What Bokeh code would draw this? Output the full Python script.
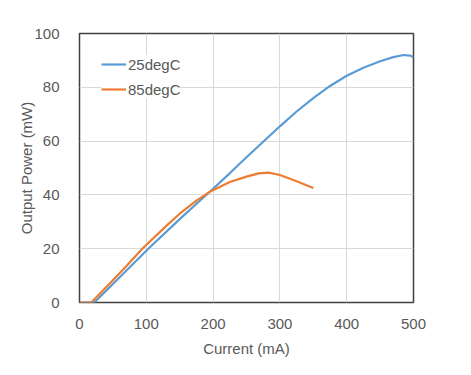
from bokeh.plotting import figure
from bokeh.models import ColumnDataSource, Range1d, FixedTicker, Legend, LegendItem
from bokeh.embed import file_html
from bokeh.resources import INLINE

# Data
current_25 = [0, 22, 50, 103, 150, 181, 200, 226, 250, 273, 300, 325, 350, 375, 400, 425, 450, 470, 485, 495, 500]
power_25 = [0, 0, 6.9, 20.0, 31.0, 38.0, 42.3, 48.3, 54.0, 59.3, 65.5, 71.0, 76.0, 80.5, 84.3, 87.3, 89.7, 91.2, 92.0, 91.8, 91.2]

current_85 = [0, 17.5, 45, 70, 94, 130, 150, 175, 196, 225, 250, 268, 283, 300, 325, 350]
power_85 = [0, 0, 7.0, 13.5, 20.0, 28.5, 33.0, 37.9, 41.3, 44.8, 46.8, 48.0, 48.3, 47.4, 45.1, 42.6]

x_ticks = [0, 100, 200, 300, 400, 500]
y_ticks = [0, 20, 40, 60, 80, 100]

FONT = "Liberation Sans"
TXT = "#595959"

p = figure(width=448, height=363, output_backend="svg", toolbar_location=None,
           x_range=Range1d(0, 500), y_range=Range1d(0, 100),
           min_border_left=79, min_border_right=35, min_border_top=33, min_border_bottom=61)

p.outline_line_color = "#404040"
p.outline_line_width = 1.5

for ax in (p.xaxis[0], p.yaxis[0]):
    ax.axis_line_color = None
    ax.major_tick_line_color = None
    ax.minor_tick_line_color = None
    ax.major_label_text_font = FONT
    ax.major_label_text_font_size = "15px"
    ax.major_label_text_color = TXT
    ax.axis_label_text_font = FONT
    ax.axis_label_text_font_size = "15px"
    ax.axis_label_text_color = TXT
    ax.axis_label_text_font_style = "normal"

p.xaxis.ticker = FixedTicker(ticks=x_ticks)
p.yaxis.ticker = FixedTicker(ticks=y_ticks)
p.xaxis.axis_label = "Current (mA)"
p.yaxis.axis_label = "Output Power (mW)"
p.xaxis.major_label_standoff = 10
p.yaxis.major_label_standoff = 14
p.xaxis.axis_label_standoff = 8
p.yaxis.axis_label_standoff = -4

p.xgrid.grid_line_color = "#d9d9d9"
p.ygrid.grid_line_color = "#d9d9d9"
p.xgrid.ticker = FixedTicker(ticks=x_ticks)
p.ygrid.ticker = FixedTicker(ticks=y_ticks)

s25 = ColumnDataSource(dict(x=current_25, y=power_25))
s85 = ColumnDataSource(dict(x=current_85, y=power_85))
r25 = p.line("x", "y", source=s25, line_color="#5B9BD5", line_width=2.2)
r85 = p.line("x", "y", source=s85, line_color="#ED7D31", line_width=2.2)

legend = Legend(items=[LegendItem(label="25degC", renderers=[r25]),
                       LegendItem(label="85degC", renderers=[r85])],
                location="top_left")
legend.margin = 22
legend.padding = 14
legend.spacing = 7
legend.label_height = 18
legend.glyph_height = 18
legend.glyph_width = 25
legend.label_standoff = 2
legend.label_text_font = FONT
legend.label_text_font_size = "15px"
legend.label_text_color = TXT
legend.border_line_color = None
legend.background_fill_color = "white"
legend.background_fill_alpha = 1
p.add_layout(legend)

open("out.html", "w").write(file_html(p, INLINE))
